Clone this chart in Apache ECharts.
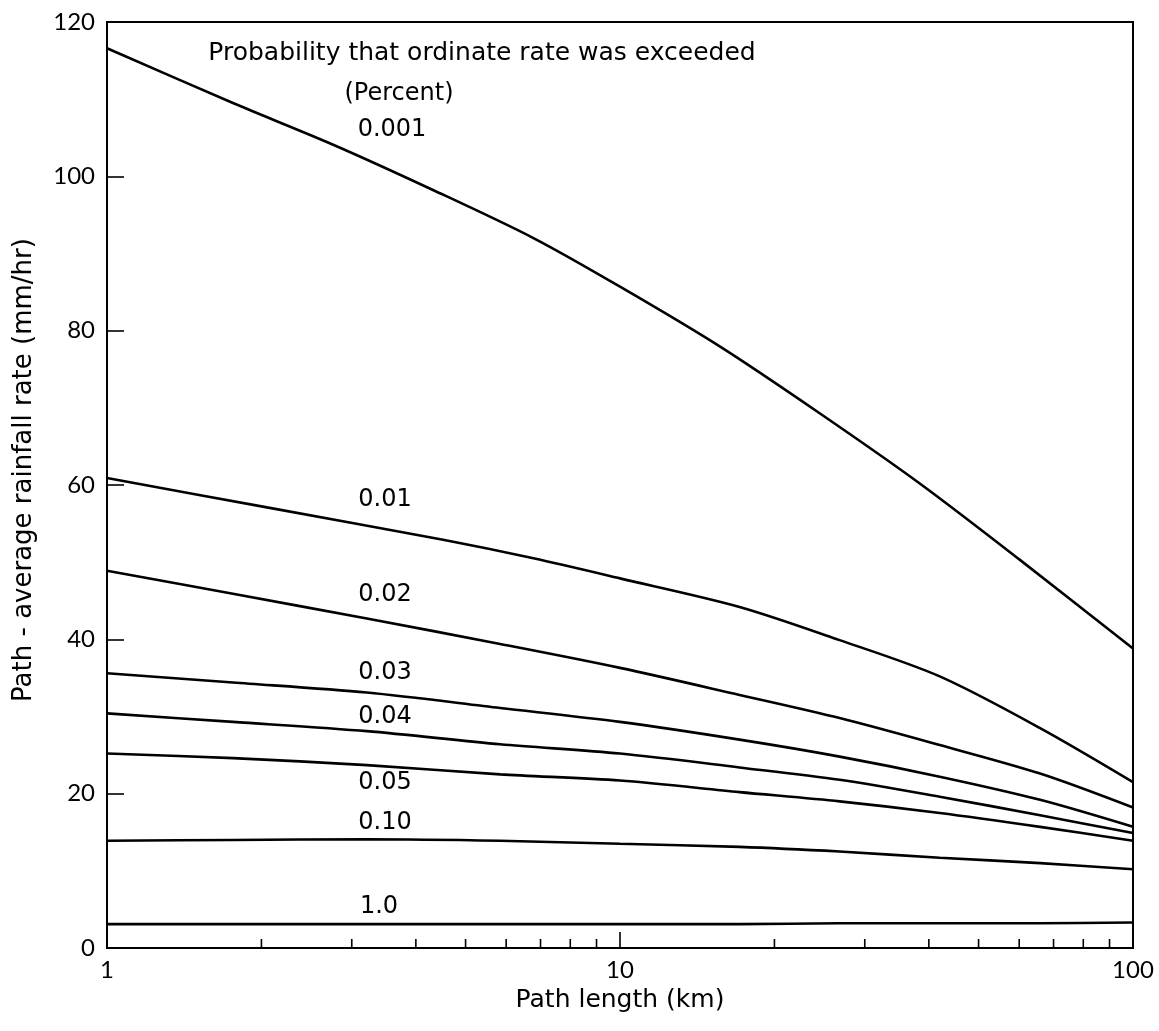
<!DOCTYPE html>
<html>
<head>
<meta charset="utf-8">
<script src="https://cdn.jsdelivr.net/npm/echarts@6/dist/echarts.min.js"></script>
<style>
html,body{margin:0;padding:0;background:#fff;}
#chart{width:1159px;height:1031px;}
</style>
</head>
<body>
<div id="chart"></div>
<script>
// ---- data ----
var pathLength = [1, 1.76, 3.21, 5.84, 10, 17.1, 26.8, 42.0, 65.9, 100];

var pathLength001 = [1, 1.76, 2.76, 4.33, 6.78, 10, 15.7, 24.5, 38.4, 60.2, 100];
var rate001 = [116.6, 109.5, 104.1, 98.2, 92.0, 85.7, 77.9, 69.3, 60.2, 50.3, 38.8];

var pathLength01 = [1, 2.05, 4.52, 6.78, 10, 17.1, 26.8, 42.0, 65.9, 100];
var rate01 = [60.9, 57.1, 52.9, 50.5, 47.9, 44.2, 39.9, 35.2, 28.5, 21.5];

var rate02 = [48.9, 45.9, 42.7, 39.4, 36.3, 32.8, 29.8, 26.3, 22.6, 18.2];
var rate03 = [35.6, 34.4, 33.1, 31.1, 29.3, 27.0, 24.8, 22.2, 19.2, 15.7];
var rate04 = [30.4, 29.3, 28.1, 26.4, 25.2, 23.4, 21.8, 19.6, 17.2, 14.9];
var rate05 = [25.2, 24.6, 23.7, 22.5, 21.7, 20.2, 19.0, 17.5, 15.7, 13.9];
var rate10 = [13.9, 14.0, 14.1, 13.9, 13.5, 13.1, 12.5, 11.7, 11.0, 10.2];
var rate1 = [3.1, 3.1, 3.1, 3.1, 3.1, 3.1, 3.2, 3.2, 3.2, 3.3];

var curveNames = ['0.001', '0.01', '0.02', '0.03', '0.04', '0.05', '0.10', '1.0'];
var xTickLabels = ['1', '10', '100'];
var minorTickValues = [2, 3, 4, 5, 6, 7, 8, 9, 20, 30, 40, 50, 60, 70, 80, 90];

// ---- build ----
function pairs(xs, ys) { return xs.map(function (x, i) { return [x, ys[i]]; }); }

var seriesData = [
  pairs(pathLength001, rate001),
  pairs(pathLength01, rate01),
  pairs(pathLength, rate02),
  pairs(pathLength, rate03),
  pairs(pathLength, rate04),
  pairs(pathLength, rate05),
  pairs(pathLength, rate10),
  pairs(pathLength, rate1)
];

var FONT = '"DejaVu Sans"';
var TICKFONT = 'Lato';
var series = seriesData.map(function (d, i) {
  return {
    name: curveNames[i],
    type: 'line',
    data: d,
    smooth: 0.3,
    symbol: 'none',
    lineStyle: { color: '#000', width: 2.6 },
    z: 3
  };
});

series.push({
  type: 'custom',
  data: minorTickValues.map(function (v) { return [v, 0]; }),
  renderItem: function (params, api) {
    var p = api.coord([api.value(0), 0]);
    return {
      type: 'line',
      shape: { x1: p[0], y1: p[1], x2: p[0], y2: p[1] - 9 },
      style: { stroke: '#000', lineWidth: 1.6 }
    };
  },
  silent: true,
  z: 4
});

function txt(x, y, s, size) {
  return {
    type: 'text', x: x, y: y,
    style: { text: s, font: (size || 24) + 'px ' + FONT, fill: '#000', align: 'center', verticalAlign: 'middle' },
    z: 10
  };
}

var option = {
  backgroundColor: '#fff',
  animation: false,
  grid: {
    left: 107, right: 26, top: 22, bottom: 83,
    show: true, borderColor: '#000', borderWidth: 2, backgroundColor: 'transparent'
  },
  xAxis: {
    type: 'log',
    logBase: 10,
    min: 1,
    max: 100,
    name: 'Path length (km)',
    nameLocation: 'middle',
    nameGap: 40,
    nameTextStyle: { fontFamily: FONT, fontSize: 25, color: '#000' },
    axisLine: { lineStyle: { color: '#000', width: 2 } },
    axisTick: { inside: true, length: 16, lineStyle: { color: '#000', width: 1.6 } },
    axisLabel: {
      fontFamily: TICKFONT, fontSize: 24, color: '#000', margin: 10,
      formatter: function (v) {
        var s = String(Math.round(v));
        return xTickLabels.indexOf(s) >= 0 ? s : '';
      }
    },
    splitLine: { show: false },
    minorTick: { show: false }
  },
  yAxis: {
    type: 'value',
    min: 0,
    max: 120,
    interval: 20,
    name: 'Path - average rainfall rate (mm/hr)',
    nameLocation: 'middle',
    nameGap: 70,
    nameTextStyle: { fontFamily: FONT, fontSize: 26, color: '#000', padding: [0, 0, 0, 30] },
    axisLine: { show: true, lineStyle: { color: '#000', width: 2 } },
    axisTick: { show: true, inside: true, length: 17, lineStyle: { color: '#000', width: 1.6 } },
    axisLabel: { fontFamily: TICKFONT, fontSize: 24, color: '#000', margin: 12 },
    splitLine: { show: false }
  },
  series: series,
  graphic: [
    txt(482, 53, 'Probability that ordinate rate was exceeded', 25),
    txt(399, 94, '(Percent)', 24),
    txt(392, 130, curveNames[0]),
    txt(385, 500, curveNames[1]),
    txt(385, 595, curveNames[2]),
    txt(385, 673, curveNames[3]),
    txt(385, 717, curveNames[4]),
    txt(385, 783, curveNames[5]),
    txt(385, 823, curveNames[6]),
    txt(379, 907, curveNames[7])
  ]
};

var chart = echarts.init(document.getElementById('chart'), null, { renderer: 'canvas' });
chart.setOption(option);
</script>
</body>
</html>
